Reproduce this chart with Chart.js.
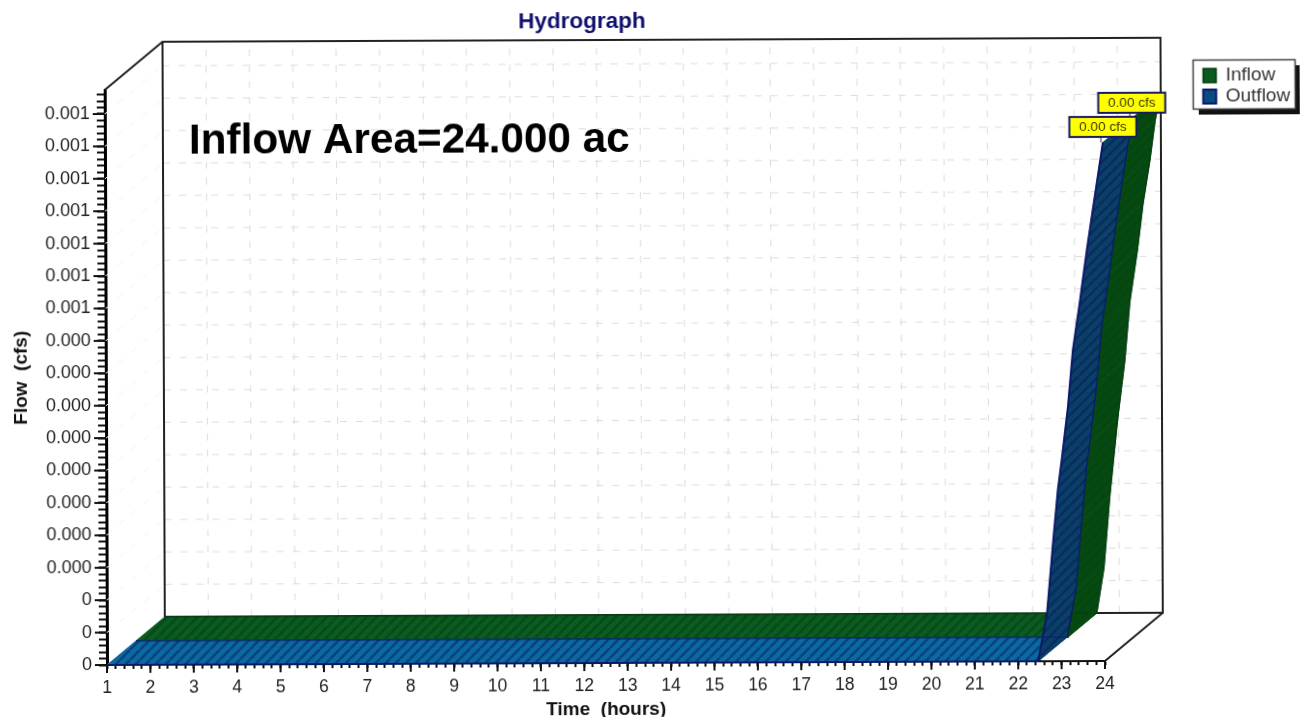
<!DOCTYPE html>
<html>
<head>
<meta charset="utf-8">
<title>Hydrograph</title>
<script src="https://cdn.jsdelivr.net/npm/chart.js@4"></script>
<style>
  html, body { margin: 0; padding: 0; background: #fff; overflow: hidden; }
  /* the reference is a slightly crooked, soft scan, so the whole canvas is turned a little */
  #chart { display: block; transform-origin: 107px 665px; transform: rotate(-0.23deg); filter: blur(0.4px); }
</style>
</head>
<body>
<canvas id="chart" width="1302" height="719"></canvas>
<script>
const inflowHours = [1, 5, 10, 15, 20, 22.48, 22.65, 22.79, 22.98, 23.15, 23.27, 23.45, 23.58, 23.75, 23.87, 24];
const inflowCfs = [0, 0, 0, 0, 0, 0, 0.00007, 0.00018, 0.0003, 0.00039, 0.00048, 0.00056, 0.00063, 0.0007, 0.00076, 0.0008];
const outflowHours = [1, 5, 10, 15, 20, 22.46, 22.67, 22.82, 22.93, 23.02, 23.17, 23.29, 23.46, 23.62, 23.76, 24];
const outflowCfs = [0, 0, 0, 0, 0, 0, 0.000074, 0.000187, 0.000264, 0.00031, 0.000392, 0.00048, 0.000557, 0.000634, 0.000696, 0.0008];

const xTickLabels = ['1', '2', '3', '4', '5', '6', '7', '8', '9', '10', '11', '12', '13', '14', '15', '16', '17', '18', '19', '20', '21', '22', '23', '24'];
const yTickLabels = ['0', '0', '0', '0.000', '0.000', '0.000', '0.000', '0.000', '0.000', '0.000', '0.000', '0.001', '0.001', '0.001', '0.001', '0.001', '0.001', '0.001'];
const peakLabels = ['0.00 cfs', '0.00 cfs'];

const FONT = '"Liberation Sans", Arial, sans-serif';
const DEPTH_X = 58;
const DEPTH_Y = -48;
const Y_MINOR = 0.00001;
const X_MINOR = 0.2;

// how far back each series sits, as a share of the full depth
const depthShare = [0.5, 0];

function makeHatch (base, line) {
  const tile = document.createElement('canvas');
  tile.width = 10;
  tile.height = 10;
  const c = tile.getContext('2d');
  c.fillStyle = base;
  c.fillRect(0, 0, 10, 10);
  c.strokeStyle = line;
  c.lineWidth = 2.6;
  for (let i = -10; i <= 10; i += 10) {
    c.beginPath();
    c.moveTo(i, 10);
    c.lineTo(i + 10, 0);
    c.stroke();
  }
  return c.createPattern(tile, 'repeat');
}

const ribbons = [
  { flat: makeHatch('#0a5c20', '#084a1a'), steep: makeHatch('#064a12', '#064610'), edge: '#053a10' },
  { flat: makeHatch('#0a6aa0', '#0a4080'), steep: makeHatch('#0a4068', '#0a2c60'), edge: '#0a1a6a' }
];

const hydroPlugin = {
  id: 'hydro3d',

  // the title is centred over the plot and the legend floats right of it
  afterLayout (chart) {
    chart.titleBlock.left = 64;
    Object.assign(chart.legend, { left: 1203.5, top: 68.5, right: 1300, bottom: 116 });
  },

  // frame and shadow behind the legend
  beforeDraw (chart) {
    const ctx = chart.ctx;
    ctx.save();
    ctx.fillStyle = '#111';
    ctx.fillRect(1201, 70, 102, 49);
    ctx.fillStyle = '#fff';
    ctx.strokeStyle = '#444';
    ctx.lineWidth = 1.5;
    ctx.fillRect(1195.5, 64.5, 102, 49);
    ctx.strokeRect(1195.5, 64.5, 102, 49);
    ctx.restore();
  },

  // back wall, side wall, floor and their grid
  beforeDatasetsDraw (chart) {
    const { ctx, chartArea: a } = chart;
    const xs = chart.scales.x;
    const ys = chart.scales.y;
    ctx.save();

    ctx.lineWidth = 1;
    ctx.setLineDash([7, 9]);
    ctx.strokeStyle = '#dcdcdc';
    xTickLabels.forEach((label, i) => {
      const px = xs.getPixelForValue(i + 1) + DEPTH_X;
      if (i > 0 && i < xTickLabels.length - 1) {
        ctx.beginPath();
        ctx.moveTo(px, a.bottom + DEPTH_Y);
        ctx.lineTo(px, a.top + DEPTH_Y);
        ctx.stroke();
      }
    });
    yTickLabels.forEach((label, i) => {
      const py = ys.getPixelForValue(i * Y_MINOR * 5) + DEPTH_Y;
      if (i > 0) {
        ctx.beginPath();
        ctx.moveTo(a.left + DEPTH_X, py);
        ctx.lineTo(a.right + DEPTH_X, py);
        ctx.stroke();
      }
    });
    ctx.strokeStyle = '#f2f2f2';
    yTickLabels.forEach((label, i) => {
      const py = ys.getPixelForValue(i * Y_MINOR * 5);
      ctx.beginPath();
      ctx.moveTo(a.left, py);
      ctx.lineTo(a.left + DEPTH_X, py + DEPTH_Y);
      ctx.stroke();
    });
    ctx.setLineDash([]);

    ctx.strokeStyle = '#222';
    ctx.lineWidth = 2;
    ctx.beginPath();
    ctx.moveTo(a.left, a.top);
    ctx.lineTo(a.left + DEPTH_X, a.top + DEPTH_Y);
    ctx.lineTo(a.right + DEPTH_X, a.top + DEPTH_Y);
    ctx.lineTo(a.right + DEPTH_X, a.bottom + DEPTH_Y);
    ctx.lineTo(a.left + DEPTH_X, a.bottom + DEPTH_Y);
    ctx.lineTo(a.left + DEPTH_X, a.top + DEPTH_Y);
    ctx.moveTo(a.right, a.bottom);
    ctx.lineTo(a.right + DEPTH_X, a.bottom + DEPTH_Y);
    ctx.stroke();
    ctx.restore();
  },

  // each series is swept back into a ribbon, the dataset line is its front edge
  beforeDatasetDraw (chart, args) {
    const ctx = chart.ctx;
    const i = args.index;
    const style = ribbons[i];
    const dx = DEPTH_X * 0.5;
    const dy = DEPTH_Y * 0.5;
    const pts = args.meta.data;
    ctx.save();
    ctx.translate(DEPTH_X * depthShare[i], DEPTH_Y * depthShare[i]);
    for (let k = 0; k < pts.length - 1; k++) {
      const p = pts[k];
      const q = pts[k + 1];
      const fill = Math.abs(p.y - q.y) < 0.5 ? style.flat : style.steep;
      ctx.beginPath();
      ctx.moveTo(p.x, p.y);
      ctx.lineTo(q.x, q.y);
      ctx.lineTo(q.x + dx, q.y + dy);
      ctx.lineTo(p.x + dx, p.y + dy);
      ctx.closePath();
      ctx.fillStyle = fill;
      ctx.fill();
      ctx.strokeStyle = fill;
      ctx.lineWidth = 0.8;
      ctx.stroke();
    }
    ctx.beginPath();
    pts.forEach((p, k) => {
      if (k === 0) ctx.moveTo(p.x + dx, p.y + dy);
      else ctx.lineTo(p.x + dx, p.y + dy);
    });
    ctx.strokeStyle = style.edge;
    ctx.lineWidth = 1.2;
    ctx.stroke();
  },

  afterDatasetDraw (chart) {
    chart.ctx.restore();
  },

  afterDraw (chart) {
    const { ctx, chartArea: a } = chart;
    ctx.save();

    // long marks on the whole units, the library only has one tick length
    ctx.strokeStyle = '#111';
    ctx.lineWidth = 2;
    yTickLabels.forEach((label, i) => {
      const py = chart.scales.y.getPixelForValue(i * Y_MINOR * 5);
      ctx.beginPath();
      ctx.moveTo(a.left, py);
      ctx.lineTo(a.left - 12, py);
      ctx.stroke();
    });
    xTickLabels.forEach((label, i) => {
      const px = chart.scales.x.getPixelForValue(i + 1);
      ctx.beginPath();
      ctx.moveTo(px, a.bottom);
      ctx.lineTo(px, a.bottom + 8);
      ctx.stroke();
    });

    ctx.fillStyle = '#000';
    ctx.font = 'bold 42.3px ' + FONT;
    ctx.textAlign = 'left';
    ctx.textBaseline = 'middle';
    ctx.fillText('Inflow Area=24.000 ac', 191, 142);

    // yellow peak labels, inflow first so outflow stays in front
    [0, 1].forEach((i) => {
      const pts = chart.getDatasetMeta(i).data;
      const peak = pts[pts.length - 1];
      const px = peak.x + DEPTH_X * depthShare[i];
      const py = peak.y + DEPTH_Y * depthShare[i];
      ctx.strokeStyle = '#333';
      ctx.lineWidth = 1;
      ctx.beginPath();
      ctx.moveTo(px - 2, py);
      ctx.lineTo(px - 2, py - 10);
      ctx.stroke();
      ctx.fillStyle = '#ffff00';
      ctx.strokeStyle = '#1a1a60';
      ctx.lineWidth = 2;
      ctx.fillRect(px - 33.5, py - 25.5, 67, 20);
      ctx.strokeRect(px - 33.5, py - 25.5, 67, 20);
      ctx.fillStyle = '#3a3a00';
      ctx.font = '13.5px ' + FONT;
      ctx.textAlign = 'center';
      ctx.fillText(peakLabels[i], px, py - 15.5);
    });
    ctx.restore();
  }
};

new Chart(document.getElementById('chart'), {
  type: 'line',
  data: {
    datasets: [
      {
        label: 'Inflow',
        data: inflowHours.map((h, i) => ({ x: h, y: inflowCfs[i] })),
        backgroundColor: '#0b5a1e',
        borderColor: '#063a12',
        borderWidth: 1.5,
        order: 2
      },
      {
        label: 'Outflow',
        data: outflowHours.map((h, i) => ({ x: h, y: outflowCfs[i] })),
        backgroundColor: '#0a4a80',
        borderColor: '#0a1a6a',
        borderWidth: 2,
        order: 1
      }
    ]
  },
  plugins: [hydroPlugin],
  options: {
    responsive: false,
    animation: false,
    clip: false,
    parsing: { xAxisKey: 'x', yAxisKey: 'y' },
    elements: { point: { radius: 0 }, line: { tension: 0 } },
    layout: { padding: { left: 0, right: 197, top: 0, bottom: 0 } },
    plugins: {
      tooltip: { enabled: false },
      title: {
        display: true,
        text: 'Hydrograph',
        color: '#10106e',
        font: { family: FONT, size: 22.5, weight: 'bold', lineHeight: 1.2 },
        padding: { top: 10, bottom: 53 }
      },
      legend: {
        position: 'chartArea',
        align: 'start',
        labels: {
          boxWidth: 13,
          boxHeight: 14,
          padding: 2,
          color: '#333',
          font: { family: FONT, size: 19 },
          sort: (a, b) => a.datasetIndex - b.datasetIndex
        }
      }
    },
    scales: {
      x: {
        type: 'linear',
        min: 1,
        max: 24,
        afterFit: (scale) => { scale.height = 54; },
        border: { color: '#111', width: 2 },
        grid: { drawOnChartArea: false, tickLength: 4, tickColor: '#111', tickWidth: 2 },
        ticks: {
          stepSize: X_MINOR,
          autoSkip: false,
          maxRotation: 0,
          minRotation: 0,
          includeBounds: false,
          padding: 9,
          color: '#222',
          font: { family: FONT, size: 17.5 },
          callback: (v) => {
            const n = Math.round(v / X_MINOR);
            return n % 5 === 0 ? xTickLabels[n / 5 - 1] : '';
          }
        },
        title: {
          display: true,
          text: 'Time  (hours)',
          color: '#111',
          font: { family: FONT, size: 19, weight: 'bold', lineHeight: 0.8 },
          padding: 0
        }
      },
      y: {
        type: 'linear',
        min: 0,
        max: 0.000887,
        afterFit: (scale) => { scale.width = 107; },
        border: { color: '#000', width: 3 },
        grid: { drawOnChartArea: false, tickLength: 8, tickColor: '#111', tickWidth: 2 },
        ticks: {
          stepSize: Y_MINOR,
          autoSkip: false,
          includeBounds: false,
          padding: 7,
          color: '#222',
          font: { family: FONT, size: 18 },
          callback: (v) => {
            const n = Math.round(v / Y_MINOR);
            return n % 5 === 0 ? yTickLabels[n / 5] : '';
          }
        },
        title: {
          display: true,
          text: 'Flow  (cfs)',
          color: '#111',
          font: { family: FONT, size: 19, weight: 'bold', lineHeight: 1.2 },
          padding: { top: 11, bottom: 0 }
        }
      }
    }
  }
});
</script>
</body>
</html>
